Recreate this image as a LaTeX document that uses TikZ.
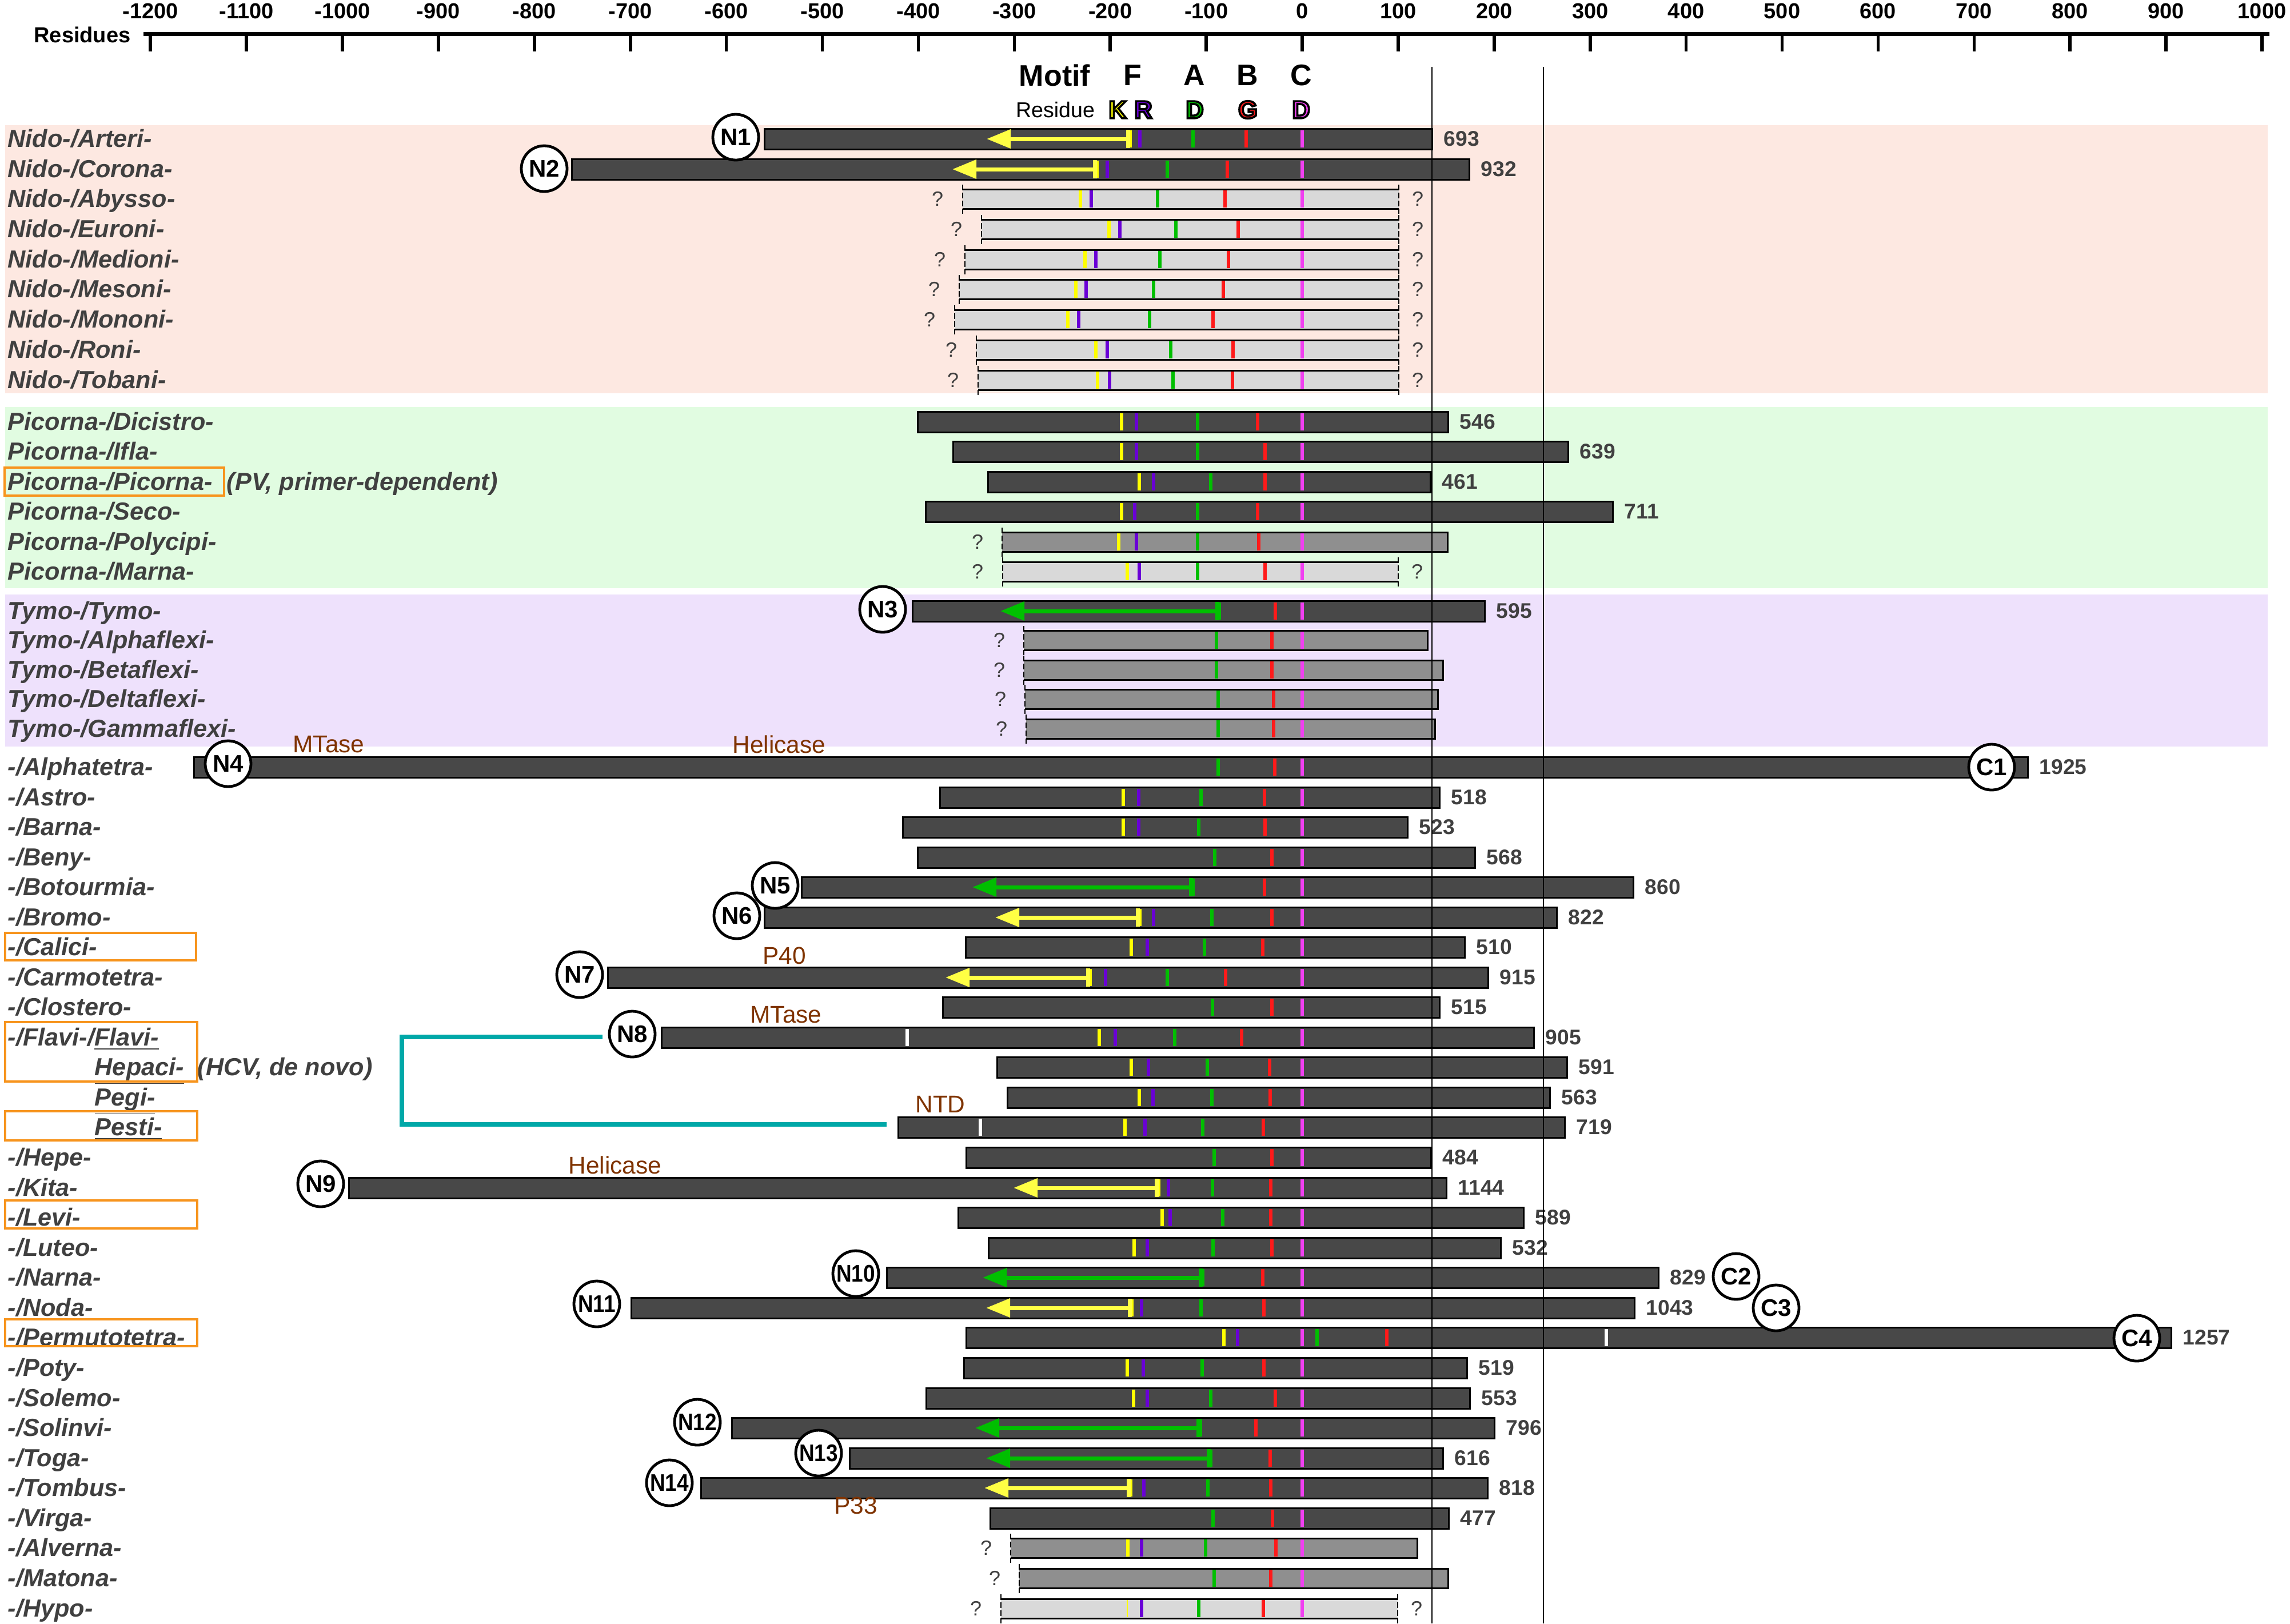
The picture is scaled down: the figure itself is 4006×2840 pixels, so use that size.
\documentclass[tikz,border=0pt]{standalone}
\usepackage{fontspec}
\setmainfont{Liberation Sans}
\usetikzlibrary{arrows.meta}
\definecolor{barD}{HTML}{484848}
\definecolor{barL}{HTML}{D9D9D9}
\definecolor{barM}{HTML}{8F8F8F}
\definecolor{mY}{HTML}{FFFF00}
\definecolor{arrY}{HTML}{FFFF44}
\definecolor{mP}{HTML}{6A00D6}
\definecolor{mG}{HTML}{00BF00}
\definecolor{mR}{HTML}{FF1A1A}
\definecolor{mM}{HTML}{F040F0}
\definecolor{txt}{HTML}{404040}
\definecolor{bgN}{HTML}{FDE8E1}
\definecolor{bgP}{HTML}{E1FCE1}
\definecolor{bgT}{HTML}{EEE1FC}
\definecolor{domc}{HTML}{7F3300}
\definecolor{orng}{HTML}{F7941D}
\definecolor{tealc}{HTML}{00A8A8}
% row label
\newcommand\lab[3]{\node[rlab] (#1) at (13,#2+14) {#3};}
% dark bar: name y L R number
\newcommand\dbarrow[5]{%
  \draw[dbar] (#3,#2-18) rectangle (#4,#2+18);
  \node[num] (#1-n) at (#4+20,#2) {#5};}
% light bar: name y L R
\newcommand\lbarrow[4]{%
  \fill[barL] (#3,#2-17) rectangle (#4,#2+17);
  \draw[edge] (#3,#2-17) -- (#4,#2-17) (#3,#2+17) -- (#4,#2+17);
  \draw[dedge] (#3,#2-25) -- (#3,#2+26) (#4,#2-25) -- (#4,#2+26);
  \node[qm] (#1-ql) at (#3-44,#2) {?};
  \node[qm] (#1-qr) at (#4+33,#2) {?};}
% mid bar: name y L R
\newcommand\mbarrow[4]{%
  \fill[barM] (#3,#2-17) rectangle (#4,#2+17);
  \draw[edge] (#3,#2-17) -- (#4,#2-17) -- (#4,#2+17) -- (#3,#2+17);
  \draw[dedge] (#3,#2-25) -- (#3,#2+26);
  \node[qm] (#1-ql) at (#3-43,#2) {?};}
% ticks
\newcommand\tk[3]{\draw[tk,#1] (#2,#3-15) -- (#2,#3+15);}
\newcommand\ticks[5]{\tk{mY}{#2}{#1}\tk{mP}{#3}{#1}\tk{mG}{#4}{#1}\tk{mR}{#5}{#1}\tk{mM}{2278}{#1}}
\newcommand\ticksGR[3]{\tk{mG}{#2}{#1}\tk{mR}{#3}{#1}\tk{mM}{2278}{#1}}
\newcommand\yarr[3]{\draw[arr,arrY] (#2,#1) -- (#3,#1);}
\newcommand\garr[3]{\draw[arr,mG] (#2,#1) -- (#3,#1);}
% outlined letter (fill colour, black stroke): name x colour letter
\newcommand\olet[4]{%
  \node[mlet] (#1) at (#2,192) {\color{#3}\special{pdf:literal direct 0 0 0 RG 2 Tr 0.9 w}#4\special{pdf:literal direct 0 Tr}};}
\begin{document}
\begin{tikzpicture}[x=0.25pt,y=-0.25pt,
  rlab/.style={anchor=base west, inner sep=0pt, text=txt, font=\fontsize{10.8}{12}\selectfont\bfseries\itshape},
  num/.style={anchor=west, inner sep=0pt, text=txt, font=\fontsize{9.3}{11}\selectfont\bfseries},
  qm/.style={inner sep=0pt, text=txt, font=\fontsize{9}{11}\selectfont},
  dbar/.style={fill=barD, draw=black, line width=0.75pt},
  edge/.style={draw=black, line width=0.75pt},
  dedge/.style={draw=black, line width=0.6pt, dash pattern=on 2.5pt off 1pt},
  tk/.style={line width=1.4pt},
  arr/.style={line width=1.75pt, arrows={Bar[width=8pt]-Triangle[length=10.5pt,width=8pt]}},
  circ/.style={circle, draw=black, fill=white, line width=1.2pt, minimum size=20pt, inner sep=0pt, font=\fontsize{10.5}{11}\selectfont\bfseries},
  dom/.style={inner sep=0pt, text=domc, font=\fontsize{10.6}{12}\selectfont},
  obox/.style={draw=orng, line width=1pt},
  vline/.style={draw=black, line width=0.6pt},
  axlab/.style={inner sep=0pt, font=\fontsize{9.5}{11}\selectfont\bfseries},
  mhead/.style={inner sep=0pt, font=\fontsize{13}{15}\selectfont\bfseries},
  mlet/.style={inner sep=0pt, font=\fontsize{10.8}{12}\selectfont\bfseries},
]
\useasboundingbox (0,0) rectangle (4006,2840);
% backgrounds
\fill[bgN] (9,219) rectangle (3967,688);
\fill[bgP] (9,712) rectangle (3967,1029);
\fill[bgT] (9,1040) rectangle (3967,1306);
% axis
\node[axlab] (resid) at (144,61) {Residues};
\draw[line width=1.75pt] (251,59) -- (3970,59);
\foreach \k in {-12,...,10} {
  \draw[line width=1.4pt] ({2278+167.9*\k},59) -- ({2278+167.9*\k},90);
  \node[axlab] (ax\k) at ({2278+167.9*\k},19) {\the\numexpr\k*100\relax};
}
% motif header
\node[mhead] (motif) at (1845,132) {Motif};
\node[mhead] (hF) at (1981,132) {F};
\node[mhead] (hA) at (2089,132) {A};
\node[mhead] (hB) at (2182,132) {B};
\node[mhead] (hC) at (2276,132) {C};
\node[inner sep=0pt, font=\fontsize{9.4}{11}\selectfont] (resh) at (1846,192) {Residue};
\olet{lK}{1955}{mY}{K}
\olet{lR}{2000}{mP}{R}
\olet{lD}{2090}{mG}{D}
\olet{lG}{2183}{mR}{G}
\olet{lD2}{2276}{mM}{D}

% ===== Nido =====
\lab{lArteri}{243}{Nido-/Arteri-}
\lab{lCorona}{296}{Nido-/Corona-}
\lab{lAbysso}{348}{Nido-/Abysso-}
\lab{lEuroni}{401}{Nido-/Euroni-}
\lab{lMedioni}{454}{Nido-/Medioni-}
\lab{lMesoni}{506}{Nido-/Mesoni-}
\lab{lMononi}{559}{Nido-/Mononi-}
\lab{lRoni}{612}{Nido-/Roni-}
\lab{lTobani}{665}{Nido-/Tobani-}
\dbarrow{Arteri}{243}{1337}{2505}{693}
\ticks{243}{1977}{1994}{2087}{2180}
\yarr{243}{1977}{1726}
\dbarrow{Corona}{296}{1000}{2570}{932}
\ticks{296}{1919}{1937}{2042}{2147}
\yarr{296}{1919}{1666}
\lbarrow{Abysso}{348}{1684}{2447}
\ticks{348}{1890}{1909}{2025}{2143}
\lbarrow{Euroni}{401}{1717}{2447}
\ticks{401}{1940}{1959}{2057}{2166}
\lbarrow{Medioni}{454}{1688}{2447}
\ticks{454}{1898}{1917}{2029}{2149}
\lbarrow{Mesoni}{506}{1678}{2447}
\ticks{506}{1882}{1900}{2018}{2140}
\lbarrow{Mononi}{559}{1670}{2447}
\ticks{559}{1868}{1887}{2011}{2122}
\lbarrow{Roni}{612}{1708}{2447}
\ticks{612}{1917}{1937}{2048}{2157}
\lbarrow{Tobani}{665}{1711}{2447}
\ticks{665}{1920}{1941}{2052}{2156}

% ===== Picorna =====
\lab{lDicistro}{738}{Picorna-/Dicistro-}
\lab{lIfla}{790}{Picorna-/Ifla-}
\lab{lPicorna}{843}{Picorna-/Picorna-}
\node[rlab] (lPV) at (396,857) {(PV, primer-dependent)};
\lab{lSeco}{895}{Picorna-/Seco-}
\lab{lPolycipi}{948}{Picorna-/Polycipi-}
\lab{lMarna}{1000}{Picorna-/Marna-}
\dbarrow{Dicistro}{738}{1605}{2533}{546}
\ticks{738}{1962}{1988}{2095}{2200}
\dbarrow{Ifla}{790}{1667}{2743}{639}
\ticks{790}{1962}{1988}{2095}{2213}
\dbarrow{Picorna}{843}{1728}{2502}{461}
\ticks{843}{1993}{2018}{2118}{2213}
\dbarrow{Seco}{895}{1619}{2821}{711}
\ticks{895}{1962}{1985}{2095}{2200}
\mbarrow{Polycipi}{948}{1753}{2532}
\ticks{948}{1957}{1988}{2095}{2202}
\lbarrow{Marna}{1000}{1754}{2446}
\ticks{1000}{1972}{1993}{2095}{2213}

% ===== Tymo =====
\lab{lTymo}{1069}{Tymo-/Tymo-}
\lab{lAlphaflexi}{1120}{Tymo-/Alphaflexi-}
\lab{lBetaflexi}{1172}{Tymo-/Betaflexi-}
\lab{lDeltaflexi}{1223}{Tymo-/Deltaflexi-}
\lab{lGammaflexi}{1275}{Tymo-/Gammaflexi-}
\dbarrow{Tymo}{1069}{1596}{2597}{595}
\ticksGR{1069}{2133}{2231}
\garr{1069}{2133}{1750}
\mbarrow{Alphaflexi}{1120}{1791}{2497}
\ticksGR{1120}{2128}{2225}
\mbarrow{Betaflexi}{1172}{1791}{2524}
\ticksGR{1172}{2128}{2225}
\mbarrow{Deltaflexi}{1223}{1793}{2515}
\ticksGR{1223}{2131}{2228}
\mbarrow{Gammaflexi}{1275}{1795}{2510}
\ticksGR{1275}{2131}{2228}

% ===== others =====
\lab{lAlphatetra}{1342}{-/Alphatetra-}
\lab{lAstro}{1395}{-/Astro-}
\lab{lBarna}{1447}{-/Barna-}
\lab{lBeny}{1500}{-/Beny-}
\lab{lBotourmia}{1552}{-/Botourmia-}
\lab{lBromo}{1605}{-/Bromo-}
\lab{lCalici}{1657}{-/Calici-}
\lab{lCarmotetra}{1710}{-/Carmotetra-}
\lab{lClostero}{1762}{-/Clostero-}
\node[rlab] (lFlavi) at (13,1829) {-/Flavi-/\underline{Flavi-}};
\node[rlab] (lHepaci) at (165,1881) {\underline{Hepaci-}};
\node[rlab] (lHCV) at (345,1881) {(HCV, de novo)};
\node[rlab] (lPegi) at (165,1934) {\underline{Pegi-}};
\node[rlab] (lPesti) at (165,1986) {\underline{Pesti-}};
\lab{lHepe}{2025}{-/Hepe-}
\lab{lKita}{2078}{-/Kita-}
\lab{lLevi}{2130}{-/Levi-}
\lab{lLuteo}{2183}{-/Luteo-}
\lab{lNarna}{2235}{-/Narna-}
\lab{lNoda}{2288}{-/Noda-}
\lab{lPermutotetra}{2340}{-/Permutotetra-}
\lab{lPoty}{2393}{-/Poty-}
\lab{lSolemo}{2446}{-/Solemo-}
\lab{lSolinvi}{2498}{-/Solinvi-}
\lab{lToga}{2551}{-/Toga-}
\lab{lTombus}{2603}{-/Tombus-}
\lab{lVirga}{2656}{-/Virga-}
\lab{lAlverna}{2708}{-/Alverna-}
\lab{lMatona}{2761}{-/Matona-}
\lab{lHypo}{2814}{-/Hypo-}

\dbarrow{Alphatetra}{1342}{339}{3547}{1925}
\ticksGR{1342}{2131}{2230}
\dbarrow{Astro}{1395}{1644}{2518}{518}
\ticks{1395}{1965}{1992}{2101}{2212}
\dbarrow{Barna}{1447}{1579}{2462}{523}
\ticks{1447}{1965}{1992}{2097}{2213}
\dbarrow{Beny}{1500}{1605}{2580}{568}
\ticksGR{1500}{2125}{2225}
\dbarrow{Botourmia}{1552}{1402}{2857}{860}
\ticksGR{1552}{2087}{2212}
\garr{1552}{2087}{1701}
\dbarrow{Bromo}{1605}{1337}{2723}{822}
\ticks{1605}{1994}{2018}{2120}{2225}
\yarr{1605}{1994}{1741}
\dbarrow{Calici}{1657}{1689}{2562}{510}
\ticks{1657}{1979}{2007}{2107}{2209}
\dbarrow{Carmotetra}{1710}{1063}{2603}{915}
\ticks{1710}{1907}{1934}{2042}{2144}
\yarr{1710}{1907}{1654}
\dbarrow{Clostero}{1762}{1649}{2518}{515}
\ticksGR{1762}{2121}{2225}
\dbarrow{Flavi}{1815}{1157}{2683}{905}
\ticks{1815}{1923}{1951}{2055}{2172}
\tk{white}{1587}{1815}
\dbarrow{Hepaci}{1867}{1744}{2741}{591}
\ticks{1867}{1979}{2009}{2112}{2221}
\dbarrow{Pegi}{1920}{1762}{2711}{563}
\ticks{1920}{1993}{2017}{2120}{2222}
\dbarrow{Pesti}{1972}{1571}{2737}{719}
\ticks{1972}{1968}{2003}{2104}{2210}
\tk{white}{1715}{1972}
\dbarrow{Hepe}{2025}{1690}{2503}{484}
\ticksGR{2025}{2124}{2225}
\dbarrow{Kita}{2078}{610}{2530}{1144}
\ticks{2078}{2027}{2044}{2121}{2223}
\yarr{2078}{2027}{1773}
\dbarrow{Levi}{2130}{1676}{2665}{589}
\ticks{2130}{2033}{2047}{2139}{2223}
\dbarrow{Luteo}{2183}{1729}{2625}{532}
\ticks{2183}{1984}{2007}{2122}{2225}
\dbarrow{Narna}{2235}{1551}{2901}{829}
\ticksGR{2235}{2104}{2209}
\garr{2235}{2104}{1719}
\dbarrow{Noda}{2288}{1104}{2859}{1043}
\ticks{2288}{1980}{1997}{2101}{2211}
\yarr{2288}{1980}{1725}
\dbarrow{Permutotetra}{2340}{1690}{3798}{1257}
\tk{mY}{2141}{2340}\tk{mP}{2165}{2340}\tk{mM}{2278}{2340}\tk{mG}{2304}{2340}\tk{mR}{2426}{2340}
\tk{white}{2810}{2340}
\dbarrow{Poty}{2393}{1686}{2566}{519}
\ticks{2393}{1972}{2000}{2103}{2211}
\dbarrow{Solemo}{2446}{1620}{2571}{553}
\ticks{2446}{1983}{2007}{2118}{2231}
\dbarrow{Solinvi}{2498}{1280}{2614}{796}
\ticksGR{2498}{2100}{2197}
\garr{2498}{2100}{1706}
\dbarrow{Toga}{2551}{1486}{2524}{616}
\ticksGR{2551}{2118}{2222}
\garr{2551}{2118}{1725}
\dbarrow{Tombus}{2603}{1226}{2602}{818}
\ticks{2603}{1978}{2001}{2113}{2223}
\yarr{2603}{1978}{1722}
\dbarrow{Virga}{2656}{1732}{2534}{477}
\ticksGR{2656}{2122}{2226}
\mbarrow{Alverna}{2708}{1768}{2479}
\ticks{2708}{1973}{1997}{2109}{2232}
\mbarrow{Matona}{2761}{1783}{2533}
\ticksGR{2761}{2124}{2223}
\lbarrow{Hypo}{2814}{1751}{2445}
\draw[line width=0.6pt,mY] (1972,2799) -- (1972,2829);
\tk{mP}{1997}{2814}\tk{mG}{2097}{2814}\tk{mR}{2210}{2814}\tk{mM}{2278}{2814}

% orange boxes
\draw[obox] (8,818) rectangle (392,867);
\draw[obox] (9,1632) rectangle (343,1680);
\draw[obox] (9,1788) rectangle (345,1892);
\draw[obox] (9,1944) rectangle (345,1995);
\draw[obox] (9,2100) rectangle (345,2149);
\draw[obox] (9,2308) rectangle (345,2355);

% domain labels
\node[dom] (dMT1) at (575,1302) {MTase};
\node[dom] (dHel1) at (1363,1302) {Helicase};
\node[dom] (dP40) at (1372,1672) {P40};
\node[dom] (dMT2) at (1375,1775) {MTase};
\node[dom] (dNTD) at (1645,1932) {NTD};
\node[dom] (dHel2) at (1076,2038) {Helicase};
\node[dom] (dP33) at (1497,2634) {P33};

% vertical guide lines
\draw[vline] (2505,117) -- (2505,2840);
\draw[vline] (2700,117) -- (2700,2840);

% circles
\node[circ] (N1) at (1287,240) {N1};
\node[circ] (N2) at (952,295) {N2};
\node[circ] (N3) at (1544,1066) {N3};
\node[circ] (N4) at (399,1336) {N4};
\node[circ] (N5) at (1356,1549) {N5};
\node[circ] (N6) at (1289,1602) {N6};
\node[circ] (N7) at (1014,1705) {N7};
\node[circ] (N8) at (1106,1809) {N8};
\node[circ] (N9) at (561,2071) {N9};
\node[circ] (N10) at (1497,2228) {\scalebox{0.88}[1]{N10}};
\node[circ] (N11) at (1044,2281) {\scalebox{0.88}[1]{N11}};
\node[circ] (N12) at (1220,2488) {\scalebox{0.88}[1]{N12}};
\node[circ] (N13) at (1432,2542) {\scalebox{0.88}[1]{N13}};
\node[circ] (N14) at (1171,2594) {\scalebox{0.88}[1]{N14}};
\node[circ] (C1) at (3484,1342) {C1};
\node[circ] (C2) at (3037,2233) {C2};
\node[circ] (C3) at (3107,2288) {C3};
\node[circ] (C4) at (3738,2341) {C4};

% teal bracket
\coordinate (tealA) at (1054,1814);
\coordinate (pestiL) at (1551,1967);
\draw[tealc, line width=2pt] (tealA) -- ++(-351,0) |- (pestiL);
\end{tikzpicture}
\end{document}
